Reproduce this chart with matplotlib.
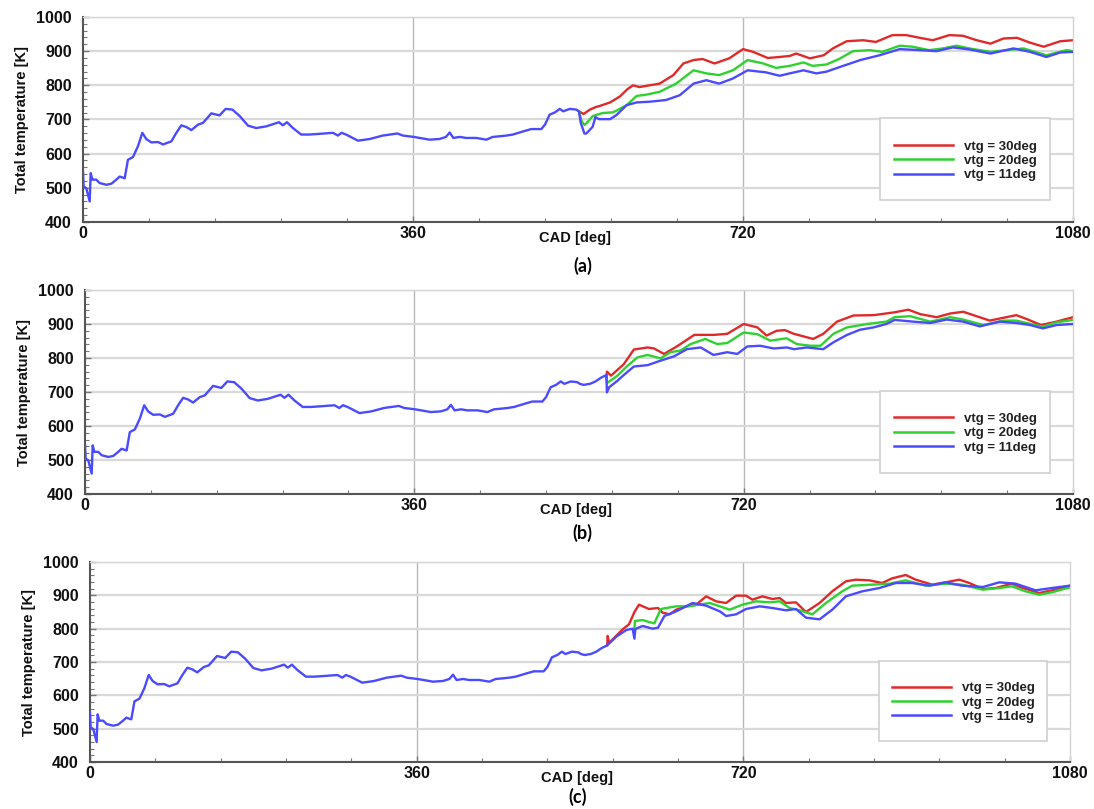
import numpy as np
import matplotlib
matplotlib.use('Agg')
import matplotlib.pyplot as plt
from matplotlib.ticker import MultipleLocator
import matplotlib.patches as patches

plt.rcParams['font.family'] = ['Liberation Sans', 'DejaVu Sans']

# common part of the trace (same for all vtg positions), (CAD, T)
base = [(0, 548), (0.7, 504), (3.6, 499), (7.3, 460), (8.4, 543), (10.2, 524), (14.5, 524),
        (18.2, 514), (25.5, 509), (30.9, 512), (36.4, 524), (40, 533), (45.5, 528), (49, 582),
        (54.5, 590), (60, 622), (64.7, 661), (69, 643), (74.5, 633), (81.8, 634), (87.3, 627),
        (96.4, 636), (101.8, 661), (107.3, 683), (112.7, 678), (118.2, 669), (125.5, 685),
        (130.9, 690), (140, 718), (149, 712), (155.6, 731), (163, 729), (171, 710), (180, 682),
        (189, 675), (200, 680), (213.8, 692), (218, 683), (222.5, 692), (229, 675), (238, 656),
        (247, 656), (258, 658), (272.7, 661), (278, 653), (282, 661), (287, 656), (300, 638),
        (313, 643), (327, 653), (335, 656), (343, 659), (349, 653), (361, 649), (378, 641),
        (389, 643), (396, 649), (400, 662), (404, 646), (411, 649), (418, 646), (429, 646),
        (440, 641), (447, 649), (455, 651), (462, 653), (469, 656), (480, 665), (489, 672),
        (500, 672), (504, 685), (509, 714), (515, 721), (520, 731), (524, 724), (531, 731),
        (538, 729), (541, 724)]
# cases (b) and (c) stay common a bit longer
ext_bc = [(545, 721), (552, 724), (558, 731), (564, 742), (570, 750)]

# (a)
a_30 = [(541, 724), (546, 716), (553, 729), (560, 737), (563, 739), (575, 750), (586, 768),
        (594, 789), (600, 800), (607, 795), (629, 805), (644, 830), (655, 864), (666, 874),
        (676, 877), (689, 864), (705, 879), (720, 906), (731, 898), (747, 880), (760, 883),
        (771, 886), (778, 893), (793, 879), (808, 888), (818, 908), (833, 929), (851, 932),
        (865, 927), (883, 947), (898, 947), (913, 939), (927, 932), (945, 947), (960, 945),
        (975, 932), (990, 922), (1004, 937), (1019, 939), (1033, 925), (1048, 913),
        (1066, 929), (1080, 932)]
a_20 = [(541, 724), (544, 695), (547, 684), (551, 694), (556, 710), (567, 719), (578, 721),
        (582, 726), (593, 742), (604, 769), (615, 773), (629, 781), (647, 805), (666, 844),
        (680, 835), (694, 830), (709, 844), (725, 874), (742, 864), (756, 851), (771, 857),
        (786, 867), (796, 857), (811, 861), (824, 876), (840, 900), (858, 903), (872, 898),
        (891, 916), (905, 913), (923, 903), (938, 908), (953, 916), (967, 908), (990, 898),
        (1008, 903), (1026, 908), (1051, 888), (1073, 903), (1080, 900)]
a_11 = [(541, 724), (543, 690), (547, 659), (549, 659), (553, 670), (556, 679), (559, 707),
        (563, 701), (575, 701), (582, 713), (593, 742), (604, 750), (618, 752), (636, 757),
        (651, 771), (666, 805), (680, 815), (694, 805), (709, 820), (725, 844), (745, 838),
        (760, 828), (771, 835), (786, 844), (800, 835), (811, 840), (826, 854), (848, 874),
        (869, 888), (891, 906), (913, 903), (931, 900), (949, 911), (967, 905), (990, 893),
        (1015, 908), (1033, 898), (1051, 883), (1066, 896), (1080, 898)]

# (b)
b_30 = [(570, 742), (570.5, 760), (575, 748), (589, 782), (600, 825), (615, 831), (622, 828),
        (633, 812), (647, 834), (666, 868), (687, 868), (702, 871), (720, 900), (735, 890),
        (745, 866), (756, 880), (765, 882), (775, 871), (796, 856), (807, 871), (822, 907),
        (840, 925), (862, 926), (884, 934), (900, 942), (913, 929), (931, 920), (946, 931),
        (960, 936), (989, 910), (1007, 920), (1018, 926), (1029, 915), (1045, 897),
        (1062, 907), (1080, 920)]
b_20 = [(570, 750), (570.5, 726), (582, 748), (593, 777), (604, 802), (615, 809), (629, 799),
        (640, 817), (651, 822), (662, 841), (678, 856), (691, 841), (702, 844), (720, 875),
        (735, 870), (749, 851), (767, 858), (778, 841), (793, 836), (804, 836), (818, 871),
        (833, 890), (855, 900), (876, 907), (885, 920), (902, 923), (924, 907), (946, 920),
        (960, 913), (982, 897), (1004, 910), (1018, 910), (1047, 892), (1062, 905),
        (1080, 912)]
b_11 = [(570, 750), (570.5, 699), (573, 714), (582, 733), (589, 750), (600, 775), (615, 779),
        (629, 792), (644, 805), (658, 826), (673, 831), (687, 809), (702, 817), (713, 812),
        (724, 834), (738, 836), (753, 828), (767, 831), (775, 826), (789, 831), (807, 826),
        (818, 846), (833, 868), (847, 883), (862, 890), (876, 900), (885, 912), (905, 907),
        (924, 903), (942, 913), (960, 907), (978, 893), (1000, 907), (1018, 903),
        (1033, 897), (1047, 887), (1062, 897), (1080, 900)]

# (c)
c_30 = [(570, 750), (570.5, 778), (572, 758), (576, 768), (587, 798), (594, 813), (600, 850),
        (605, 872), (616, 859), (626, 862), (631, 848), (639, 843), (646, 857), (657, 867),
        (668, 872), (679, 897), (690, 882), (701, 877), (712, 899), (723, 899), (730, 887),
        (741, 897), (752, 889), (760, 892), (767, 877), (778, 879), (789, 850), (804, 877),
        (818, 912), (833, 942), (844, 947), (859, 945), (873, 937), (884, 951), (899, 961),
        (910, 947), (928, 932), (943, 939), (958, 947), (969, 937), (984, 919), (998, 922),
        (1016, 935), (1028, 922), (1046, 907), (1060, 915), (1080, 929)]
c_20 = [(600, 800), (600.5, 823), (609, 826), (616, 820), (622, 816), (629, 859), (646, 867),
        (660, 867), (671, 872), (683, 877), (694, 867), (705, 857), (719, 872), (734, 882),
        (749, 879), (760, 882), (771, 862), (782, 855), (796, 843), (811, 877), (829, 912),
        (840, 929), (862, 932), (881, 935), (899, 945), (921, 929), (943, 935), (961, 932),
        (984, 917), (1002, 922), (1016, 927), (1031, 912), (1046, 902), (1060, 909),
        (1080, 924)]
c_11 = [(570, 750), (580, 776), (591, 796), (598, 800), (600, 770), (601, 799), (609, 808),
        (620, 800), (626, 803), (633, 838), (646, 852), (664, 877), (679, 869), (694, 852),
        (701, 838), (712, 843), (723, 859), (738, 867), (752, 862), (767, 855), (778, 859),
        (789, 833), (804, 828), (818, 857), (833, 897), (851, 912), (870, 922), (888, 937),
        (906, 937), (925, 929), (943, 939), (961, 929), (984, 925), (1002, 939), (1020, 935),
        (1042, 915), (1060, 922), (1080, 929)]

labels = ['vtg = 30deg', 'vtg = 20deg', 'vtg = 11deg']
colors = ['#e02a2a', '#2fd12f', '#4a4aff']
captions = ['(a)', '(b)', '(c)']

# axes rectangles in figure fractions, one per panel
W, H = 1094., 809.
rects = [[83 / W, 1 - 222 / H, 990 / W, 205 / H],
         [85 / W, 1 - 494 / H, 988 / W, 204 / H],
         [90 / W, 1 - 762 / H, 980 / W, 200 / H]]
cap_pos = [(583 / W, 1 - 266 / H), (582 / W, 1 - 533 / H), (578 / W, 1 - 797 / H)]


def xy(pts):
    p = np.array(pts, dtype=float)
    return p[:, 0], p[:, 1]


def style_axes(ax):
    ax.set_xlim(0, 1080)
    ax.set_ylim(400, 1000)
    ax.set_xticks([0, 360, 720, 1080])
    ax.set_yticks(range(400, 1001, 100))
    ax.xaxis.set_minor_locator(MultipleLocator(72))
    ax.yaxis.set_minor_locator(MultipleLocator(20))
    ax.set_axisbelow(True)
    ax.yaxis.grid(True, color='#d9d9d9', lw=1.6)
    for v in (360, 720):
        ax.axvline(v, color='#b8b8b8', lw=1.0, zorder=0.5)
    for s in ('left', 'bottom'):
        ax.spines[s].set_color('#555555')
        ax.spines[s].set_linewidth(1.5)
    for s in ('top', 'right'):
        ax.spines[s].set_color('#d4d4d4')
        ax.spines[s].set_linewidth(1.0)
    ax.tick_params(which='both', direction='in', colors='#777777')
    ax.tick_params(which='major', length=4, width=1)
    ax.tick_params(axis='x', which='major', pad=3)
    ax.tick_params(axis='y', which='major', pad=8)
    ax.tick_params(which='minor', length=3, width=0.8)
    for t in ax.get_xticklabels() + ax.get_yticklabels():
        t.set_fontweight('bold')
        t.set_fontsize(11.5)
        t.set_color('#111111')
    ax.set_ylabel('Total temperature [K]', fontsize=10.5, fontweight='bold', color='#111111')
    ax.yaxis.set_label_coords(-0.055, 0.5)
    ax.text(0.497, -0.045, 'CAD [deg]', transform=ax.transAxes, ha='center', va='top',
            fontsize=10.5, fontweight='bold', color='#111111')


fig = plt.figure(figsize=(10.94, 8.09), dpi=100)

panels = [(a_30, a_20, a_11, []), (b_30, b_20, b_11, ext_bc), (c_30, c_20, c_11, ext_bc)]

for i, (s30, s20, s11, ext) in enumerate(panels):
    ax = fig.add_axes(rects[i])
    style_axes(ax)
    handles = []
    for pts, c, lab in zip((s30, s20), colors[:2], labels[:2]):
        x, y = xy(pts)
        h, = ax.plot(x, y, color=c, lw=1.7, label=lab, zorder=2)
        handles.append(h)
    x, y = xy(base + ext + s11[1:])
    h, = ax.plot(x, y, color=colors[2], lw=1.7, label=labels[2], zorder=3)
    handles.append(h)

    ax.add_patch(patches.Rectangle((0.805, 0.105), 0.172, 0.4, transform=ax.transAxes,
                                   facecolor='white', edgecolor='#d0d0d0', lw=1.2, zorder=4))
    leg = ax.legend(handles=handles, loc='center', bbox_to_anchor=(0.891, 0.298),
                    frameon=False, prop={'weight': 'bold', 'size': 9.5},
                    handlelength=4.5, handletextpad=0.8, labelspacing=0.15)
    leg.set_zorder(5)
    for t in leg.get_texts():
        t.set_color('#222222')
    for l in leg.get_lines():
        l.set_linewidth(1.8)

    fig.text(cap_pos[i][0], cap_pos[i][1], captions[i], ha='center', va='center',
             fontsize=13, fontweight='bold', family=['Lato', 'DejaVu Sans'])

fig.savefig('out.png', dpi=100, facecolor='white')
